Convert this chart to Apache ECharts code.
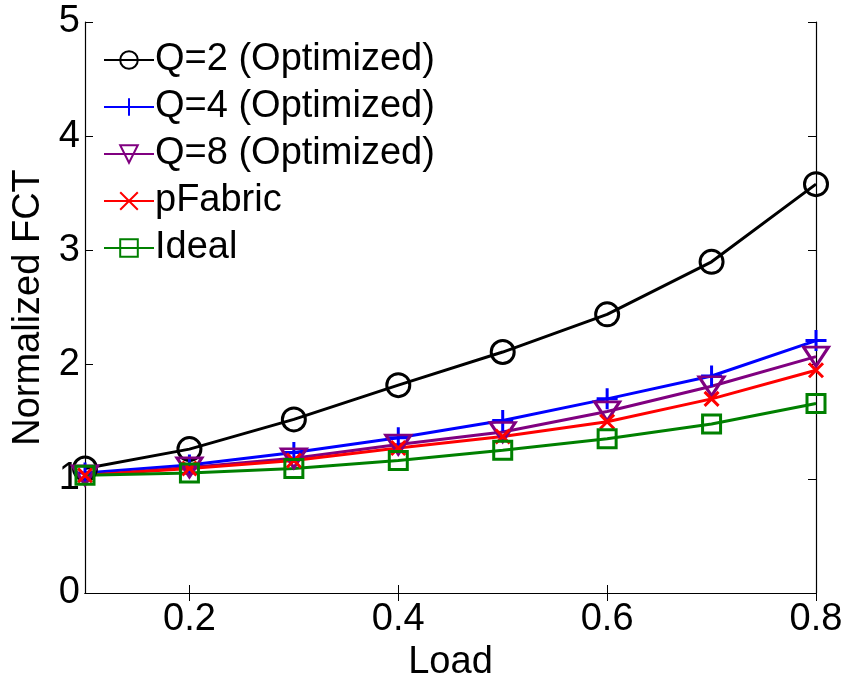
<!DOCTYPE html>
<html>
<head>
<meta charset="utf-8">
<script src="https://cdn.jsdelivr.net/npm/echarts@6/dist/echarts.min.js"></script>
<style>
  html, body { margin: 0; padding: 0; background: #fff; }
  #chart { width: 847px; height: 677px; }
</style>
</head>
<body>
<div id="chart"></div>
<script>
const loads = [0.1, 0.2, 0.3, 0.4, 0.5, 0.6, 0.7, 0.8];
const xTicks = [0.2, 0.4, 0.6, 0.8];
const q2 = [1.09, 1.26, 1.52, 1.82, 2.11, 2.44, 2.90, 3.58];
const q4 = [1.05, 1.12, 1.23, 1.36, 1.51, 1.70, 1.90, 2.21];
const q8 = [1.03, 1.10, 1.18, 1.30, 1.41, 1.59, 1.81, 2.07];
const pfabric = [1.03, 1.09, 1.16, 1.27, 1.37, 1.50, 1.70, 1.95];
const ideal = [1.03, 1.05, 1.09, 1.16, 1.25, 1.35, 1.48, 1.66];

const FONT = "Liberation Sans";
const plusPath = "path://M5,0L5,10M0,5L10,5";
const crossPath = "path://M0,0L10,10M0,10L10,0";
const triDownPath = "path://M0,0L26,0L13,20Z";

const pairs = (ys) => loads.map((x, i) => [x, ys[i]]);

const mkSeries = (name, ys, color, symbol, size) => ({
  name: name,
  type: "line",
  data: pairs(ys),
  symbol: symbol,
  symbolSize: size,
  showAllSymbol: true,
  lineStyle: { color: color, width: 3 },
  itemStyle: { color: "transparent", borderColor: color, borderWidth: 3 },
  emphasis: { disabled: true },
});

const chart = echarts.init(document.getElementById("chart"));
const option = {
  animation: false,
  grid: { left: 85, right: 31, top: 22, bottom: 84, containLabel: false, outerBoundsMode: "none" },
  legend: {
    orient: "vertical",
    left: 98,
    top: 36,
    itemWidth: 50,
    itemHeight: 22,
    itemGap: 9,
    textStyle: { fontFamily: FONT, fontSize: 38, lineHeight: 38, color: "#000", padding: [0, 0, 0, -4] },
    data: ["Q=2 (Optimized)", "Q=4 (Optimized)", "Q=8 (Optimized)", "pFabric", "Ideal"],
  },
  xAxis: [
    {
      type: "value",
      min: 0.1,
      max: 0.8,
      name: "Load",
      nameLocation: "middle",
      nameGap: 46,
      nameTextStyle: { fontFamily: FONT, fontSize: 38, color: "#000" },
      axisLine: { lineStyle: { color: "#000", width: 1.2 } },
      axisTick: { inside: true, length: 8, customValues: xTicks, lineStyle: { color: "#000" } },
      axisLabel: {
        customValues: xTicks,
        fontFamily: FONT,
        fontSize: 38,
        color: "#000",
        margin: 8,
        formatter: (v) => v.toFixed(1),
      },
      splitLine: { show: false },
    },
    {
      type: "value",
      position: "top",
      min: 0.1,
      max: 0.8,
      axisLine: { lineStyle: { color: "#000", width: 1.2 } },
      axisTick: { inside: true, length: 8, customValues: xTicks, lineStyle: { color: "#000" } },
      axisLabel: { show: false },
      splitLine: { show: false },
    },
  ],
  yAxis: [
    {
      type: "value",
      min: 0,
      max: 5,
      interval: 1,
      name: "Normalized FCT",
      nameLocation: "middle",
      nameGap: 35,
      nameTextStyle: { fontFamily: FONT, fontSize: 38, color: "#000" },
      axisLine: { show: true, lineStyle: { color: "#000", width: 1.2 } },
      axisTick: { show: true, inside: true, length: 8, lineStyle: { color: "#000" } },
      axisLabel: { fontFamily: FONT, fontSize: 38, color: "#000", margin: 5 },
      splitLine: { show: false },
    },
    {
      type: "value",
      position: "right",
      min: 0,
      max: 5,
      interval: 1,
      axisLine: { show: true, lineStyle: { color: "#000", width: 1.2 } },
      axisTick: { show: true, inside: true, length: 8, lineStyle: { color: "#000" } },
      axisLabel: { show: false },
      splitLine: { show: false },
    },
  ],
  series: [
    mkSeries("Q=2 (Optimized)", q2, "#000000", "circle", 23),
    mkSeries("Q=4 (Optimized)", q4, "#0000ff", plusPath, 21),
    mkSeries("Q=8 (Optimized)", q8, "#800080", triDownPath, [25, 19]),
    mkSeries("pFabric", pfabric, "#ff0000", crossPath, 14),
    mkSeries("Ideal", ideal, "#008000", "rect", 18),
  ],
};
chart.setOption(option);
</script>
</body>
</html>
